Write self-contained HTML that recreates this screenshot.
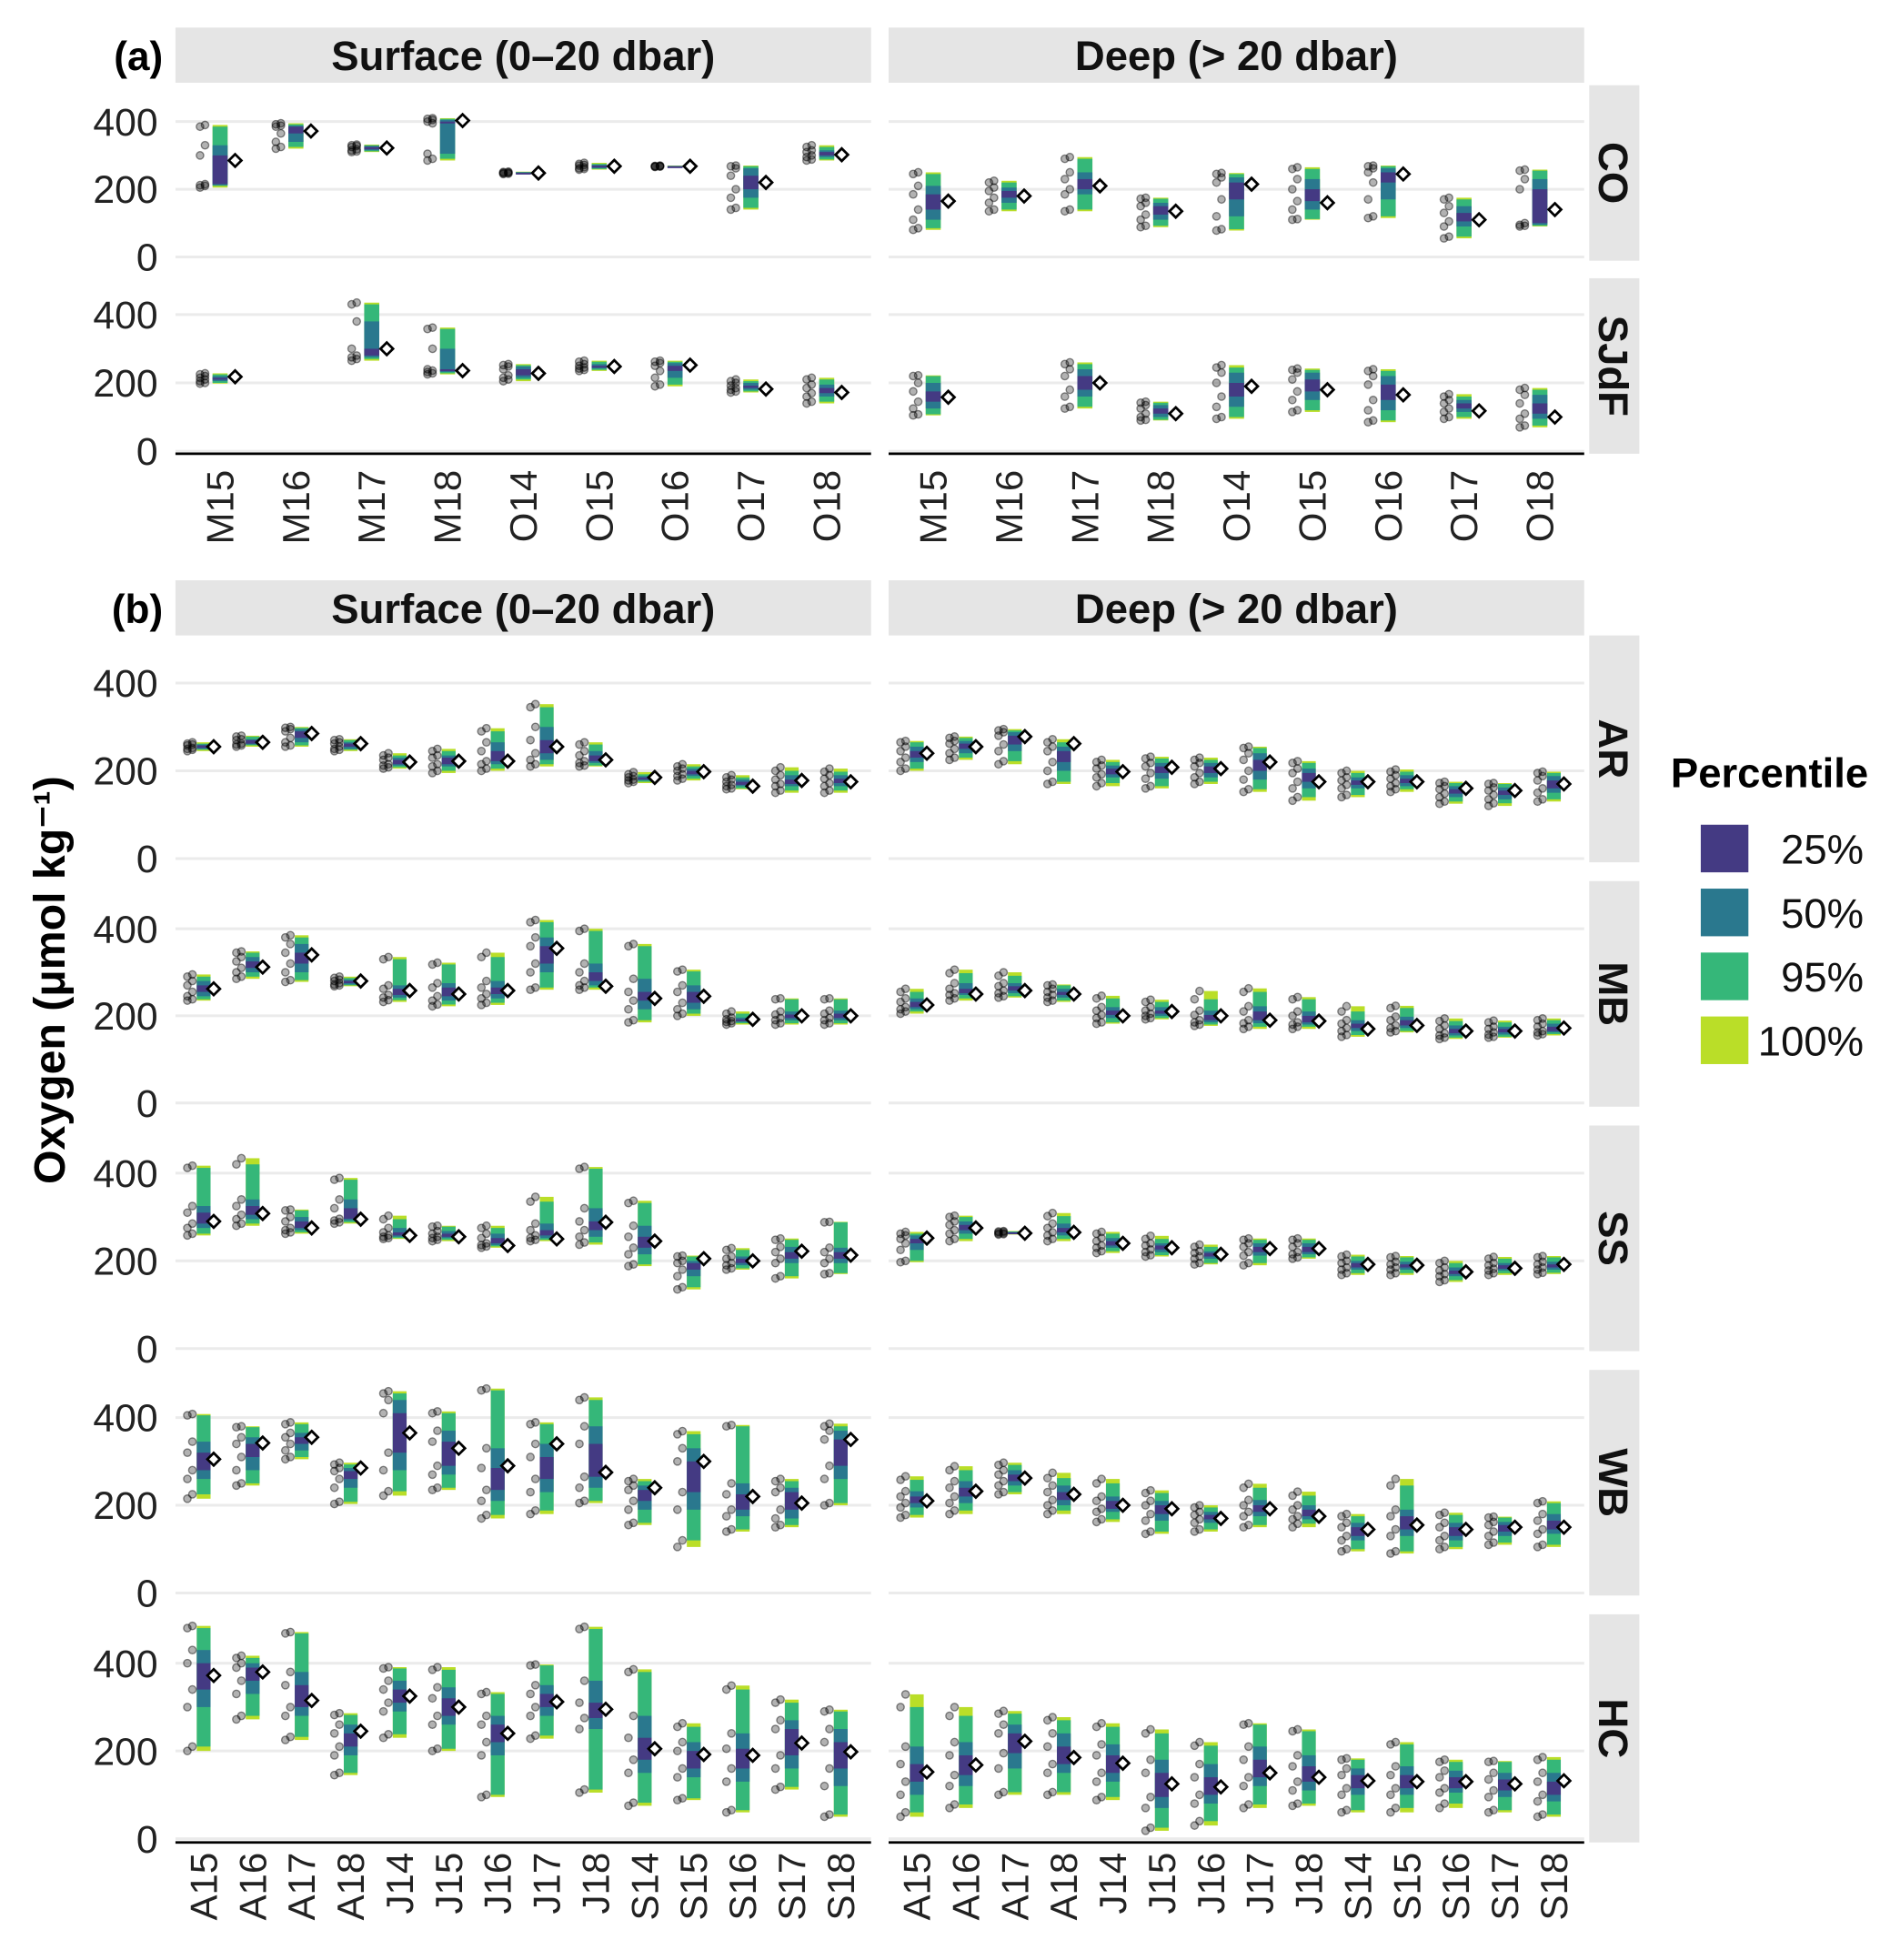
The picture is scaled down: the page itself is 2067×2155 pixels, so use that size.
<!DOCTYPE html>
<html><head><meta charset="utf-8"><style>
html,body{margin:0;padding:0;background:#fff;}
svg{display:block;}
text{font-family:"Liberation Sans",Arial,sans-serif;}
</style></head><body>
<svg id="chart" width="2067" height="2155" viewBox="0 0 1500 1563.8" preserveAspectRatio="none" xmlns="http://www.w3.org/2000/svg"></svg>
<script>
const categoriesA = ["M15","M16","M17","M18","O14","O15","O16","O17","O18"];
const categoriesB = ["A15","A16","A17","A18","J14","J15","J16","J17","J18","S14","S15","S16","S17","S18"];
const yTicks = [0,200,400];
const yTickLabels = ["0","200","400"];
const legendLabels = ["25%","50%","95%","100%"];
// each entry: [lo100, lo95, lo50, lo25, hi25, hi50, hi95, hi100, mean]
const coSurface = [[205,210,212,215,300,330,385,390,285],[320,325,340,365,385,388,392,395,372],[310,312,315,318,325,328,330,332,322],[285,290,305,395,400,405,408,410,403],[245,246,247,248,249,250,251,252,248],[258,260,262,265,270,272,275,278,268],[266,267,267,268,268,269,269,270,268],[140,145,175,200,240,262,268,270,220],[285,288,295,300,310,315,325,330,302]];
const coDeep = [[80,85,110,140,185,210,245,250,165],[135,140,160,175,195,205,220,225,180],[135,140,185,200,230,250,290,295,210],[88,92,110,125,150,160,172,175,135],[78,82,120,170,220,235,245,248,215],[110,112,140,165,200,230,260,265,160],[115,120,170,220,250,262,268,270,245],[55,60,90,105,130,150,170,175,110],[90,92,95,100,200,230,255,258,140]];
const sjdfSurface = [[198,200,205,210,215,220,225,228,218],null,[265,270,275,280,300,380,430,435,300],[225,228,232,236,240,300,358,362,236],[205,210,215,222,240,248,252,255,228],[235,238,242,245,250,255,262,265,248],[190,195,215,235,250,258,262,265,252],[172,175,180,185,192,200,205,210,182],[140,145,160,170,185,195,210,215,172]];
const sjdfDeep = [[105,108,125,145,175,200,220,222,158],null,[125,130,160,180,220,240,255,260,200],[90,92,100,110,125,135,142,145,110],[95,100,130,160,200,230,245,252,190],[115,120,150,175,210,230,238,242,180],[85,90,120,150,195,220,235,240,165],[95,100,115,125,140,150,160,167,118],[70,75,95,110,140,165,180,185,100]];
const arSurface = [[245,248,250,252,258,260,262,265,255],[255,258,260,262,270,272,278,280,265],[255,258,265,275,290,295,298,300,285],[245,248,250,255,262,265,270,272,262],[205,208,212,215,225,230,235,240,220],[195,200,210,215,230,235,245,250,222],[200,205,215,222,245,265,290,297,222],[210,215,225,240,270,300,345,352,255],[210,212,218,222,235,245,260,265,225],[172,175,178,180,185,188,192,197,185],[178,182,188,192,200,205,210,215,198],[158,160,165,168,175,180,185,190,165],[150,155,165,170,180,190,200,208,178],[150,155,165,172,182,190,198,205,175]];
const arDeep = [[200,205,220,230,245,255,265,268,240],[225,230,240,250,262,268,275,278,255],[215,222,245,260,280,288,292,295,278],[170,175,200,220,245,255,265,272,262],[165,172,185,192,205,212,220,225,198],[160,165,182,195,210,218,228,232,208],[170,175,185,195,210,218,225,230,205],[152,158,180,200,225,240,252,255,220],[132,140,160,175,195,205,218,222,175],[140,145,160,168,178,185,195,200,175],[152,158,165,172,182,190,198,203,175],[125,130,140,148,158,165,172,175,160],[120,126,135,145,155,162,170,172,155],[130,135,150,160,178,188,195,198,170]];
const mbSurface = [[235,238,245,255,270,280,290,295,262],[285,290,300,310,325,335,345,348,312],[278,282,300,320,345,365,380,385,340],[268,270,272,275,280,283,287,290,280],[232,236,242,248,262,270,330,335,258],[222,226,235,245,265,275,318,322,250],[225,230,240,250,265,280,335,345,258],[260,265,300,320,360,380,415,420,355],[260,265,270,280,300,320,395,400,268],[185,190,215,235,255,285,360,365,240],[200,205,215,230,255,270,302,306,245],[180,183,186,188,192,196,205,210,192],[180,183,190,195,203,210,238,240,200],[180,183,190,195,205,212,238,240,200]];
const mbDeep = [[205,210,215,220,232,240,255,262,225],[235,240,248,252,262,275,298,306,250],[242,245,252,258,268,275,292,300,258],[232,235,242,248,255,262,270,272,250],[182,185,195,202,212,220,240,246,200],[192,195,200,205,212,220,232,237,210],[177,180,185,190,202,212,238,257,200],[170,175,183,190,210,222,255,263,190],[170,175,180,185,200,210,238,243,188],[152,156,165,172,182,190,210,222,170],[162,165,172,178,190,198,218,223,178],[147,150,155,160,170,178,188,194,165],[150,152,157,162,170,175,185,189,165],[155,158,162,165,175,182,190,194,172]];
const ssSurface = [[258,262,275,285,310,325,412,417,290],[280,285,295,305,325,340,420,434,308],[262,265,270,275,290,300,315,317,275],[285,288,292,296,320,340,385,389,295],[250,252,255,258,265,275,295,303,258],[245,248,252,255,262,268,278,280,255],[230,233,236,240,252,262,275,280,235],[245,248,252,258,270,285,335,346,250],[237,242,255,270,290,320,410,414,288],[188,192,215,230,255,280,332,337,245],[135,140,165,180,195,200,210,212,205],[180,183,190,195,205,210,225,229,200],[160,165,195,205,220,232,248,251,222],[170,172,195,205,220,230,288,289,213]];
const ssDeep = [[197,200,225,240,250,258,262,266,252],[245,250,262,270,282,290,300,303,275],[260,261,262,263,265,266,267,268,263],[245,250,258,265,275,285,302,309,265],[218,222,230,235,245,252,262,266,240],[210,213,220,226,235,240,250,257,230],[192,195,205,210,218,222,232,237,215],[190,195,212,220,232,240,248,251,228],[205,208,215,220,232,240,248,251,228],[168,172,180,185,195,200,210,214,192],[168,172,180,185,192,198,208,211,190],[152,156,165,170,178,185,195,200,175],[168,172,178,182,190,195,205,209,183],[170,173,180,185,192,198,208,211,192]];
const wbSurface = [[215,225,260,280,320,345,405,408,305],[245,250,280,310,340,355,378,380,342],[305,310,325,340,355,365,385,389,355],[203,208,240,260,278,285,293,297,285],[222,232,280,320,410,440,455,460,365],[235,240,270,290,345,370,410,414,330],[170,178,210,235,285,330,462,466,290],[180,188,230,260,310,340,385,389,340],[205,210,240,265,340,380,440,446,275],[155,160,190,210,235,245,255,260,240],[105,120,190,230,300,330,362,369,300],[140,145,175,190,225,250,380,383,220],[150,155,170,190,230,240,255,260,205],[200,205,260,290,350,370,380,386,350]];
const wbDeep = [[172,178,195,205,220,232,258,266,210],[180,188,205,220,240,255,280,289,232],[225,230,245,255,270,280,292,297,262],[180,188,200,212,230,245,262,274,225],[162,168,185,192,210,220,250,260,200],[135,140,165,180,200,210,228,234,192],[140,145,160,168,178,185,195,200,170],[150,155,175,185,200,212,240,249,192],[150,158,168,175,190,200,222,231,175],[95,100,120,130,150,160,175,180,145],[90,95,130,145,175,190,245,260,155],[100,105,120,130,150,160,178,183,145],[110,115,130,140,155,162,172,174,150],[105,110,135,145,165,180,205,209,150]];
const hcSurface = [[200,210,300,340,400,430,480,485,372],[272,280,330,360,390,400,412,417,380],[225,232,280,300,350,380,468,471,315],[145,150,190,210,240,260,282,286,245],[230,238,290,310,340,360,388,391,325],[200,205,260,280,320,345,385,391,300],[95,100,190,220,260,280,330,334,240],[228,235,280,300,330,350,395,397,312],[105,112,250,275,310,360,478,483,295],[75,82,150,180,230,280,380,386,205],[88,92,140,160,200,220,255,263,192],[60,65,130,160,205,240,340,349,190],[112,118,160,190,250,270,310,317,218],[50,55,120,160,220,250,290,294,198]];
const hcDeep = [[50,60,100,130,170,210,300,329,152],[70,78,120,145,190,220,280,300,168],[100,106,160,195,240,260,285,291,222],[100,106,150,170,210,240,270,277,185],[88,95,130,150,190,215,255,263,172],[18,25,70,95,150,180,240,249,125],[30,40,80,100,140,170,212,220,118],[70,78,120,140,180,210,260,263,150],[75,80,110,130,165,190,245,249,140],[60,65,100,115,145,160,180,183,132],[60,70,100,115,145,165,215,220,130],[70,80,105,115,140,155,175,180,130],[60,65,95,110,135,150,175,177,125],[50,55,85,100,130,150,180,186,132]];

const NS = "http://www.w3.org/2000/svg";
const svg = document.getElementById('chart');
const COLORS = {p100:"#BADE28", p95:"#35B779", p50:"#2A788E", p25:"#443A83"};
function mk(tag, attrs, parent){
  const e = document.createElementNS(NS, tag);
  for (const k in attrs) e.setAttribute(k, attrs[k]);
  (parent||svg).appendChild(e);
  return e;
}
const COLS = [{x0:140,x1:695,label:"Surface (0–20 dbar)",key:"s"},{x0:709,x1:1264,label:"Deep (> 20 dbar)",key:"d"}];
const ROWS = [
 {name:"CO",top:68,bot:208,y0:205,y400:97,group:"a",data:[coSurface,coDeep]},
 {name:"SJdF",top:222,bot:362,y0:360,y400:251,group:"a",data:[sjdfSurface,sjdfDeep]},
 {name:"AR",top:507,bot:688,y0:685,y400:545,group:"b",data:[arSurface,arDeep]},
 {name:"MB",top:703,bot:883,y0:880,y400:741,group:"b",data:[mbSurface,mbDeep]},
 {name:"SS",top:898,bot:1078,y0:1076,y400:936,group:"b",data:[ssSurface,ssDeep]},
 {name:"WB",top:1093,bot:1273,y0:1271,y400:1131,group:"b",data:[wbSurface,wbDeep]},
 {name:"HC",top:1288,bot:1470,y0:1467,y400:1327,group:"b",data:[hcSurface,hcDeep]}
];
const GROUPS = {
 a:{cats:categoriesA,first:175.6,step:60.5,bw:12,dotOff:14,diaOff:12,stripTop:22,stripBot:66,tag:"(a)",labelTop:375,axisRow:1},
 b:{cats:categoriesB,first:162.5,step:39.1,bw:11,dotOff:11,diaOff:8,stripTop:463,stripBot:507,tag:"(b)",labelTop:1478,axisRow:6}
};

for (const gk of ["a","b"]) {
  const g = GROUPS[gk];
  COLS.forEach(c=>{
    const r = mk('rect',{x:c.x0,y:g.stripTop,width:c.x1-c.x0,height:g.stripBot-g.stripTop,fill:"#E5E5E5"});
    
    
    const t = mk('text',{x:(c.x0+c.x1)/2,y:g.stripTop+34,'text-anchor':'middle','font-size':33,'font-weight':'bold',fill:'#111'});
    t.textContent = c.label;
    
    
  });
  const tg = mk('text',{x:130,y:g.stripTop+34,'text-anchor':'end','font-size':32,'font-weight':'bold',fill:'#000'});
  tg.textContent = g.tag;
  
  
}

ROWS.forEach((row, ri)=>{
  const g = GROUPS[row.group];
  const yS = v => row.y0 - v*(row.y0-row.y400)/400;
  const rs = mk('rect',{x:1268,y:row.top,width:40,height:row.bot-row.top,fill:"#E5E5E5"});
  
  
  const cy=(row.top+row.bot)/2;
  const rt = mk('text',{x:1287,y:cy,'text-anchor':'middle','font-size':33,'font-weight':'bold',fill:'#111',transform:`rotate(90 1287 ${cy})`,'dominant-baseline':'central'});
  rt.textContent=row.name;
  
  
  yTicks.forEach((tv,ti)=>{
    const t = mk('text',{x:126,y:yS(tv)+11,'text-anchor':'end','font-size':31,fill:'#222'});
    t.textContent=yTickLabels[ti];
    
    
  });
  COLS.forEach((col,ci)=>{
    yTicks.forEach(tv=>{
      const l = mk('line',{x1:col.x0,x2:col.x1,y1:yS(tv),y2:yS(tv),stroke:'#EBEBEB','stroke-width':2.2});
      
      
    });
    const data = row.data[ci];
    const off = col.x0-140;
    const xS = i => g.first + off + i*g.step;
    data.forEach((d,i)=>{
      if(!d) return;
      const cx = xS(i);
      const grp = mk('g',{});
      
      
      const bands=[[d[0],d[7],COLORS.p100],[d[1],d[6],COLORS.p95],[d[2],d[5],COLORS.p50],[d[3],d[4],COLORS.p25]];
      bands.forEach(b=>{
        const y1=yS(b[1]), y2=yS(b[0]);
        mk('rect',{x:cx-g.bw/2,y:y1,width:g.bw,height:Math.max(1.5,y2-y1),fill:b[2]},grp);
      });
      for(let k=0;k<8;k++){
        const c = mk('circle',{cx:cx-g.dotOff+(k%2?2:-2),cy:yS(d[k]),r:3,fill:'rgba(0,0,0,0.3)',stroke:'rgba(0,0,0,0.45)','stroke-width':1},grp);
        
        
      }
      const my=yS(d[8]), mx=cx+g.diaOff, s=5;
      const dm = mk('polygon',{points:`${mx},${my-s} ${mx+s},${my} ${mx},${my+s} ${mx-s},${my}`,fill:'#fff',stroke:'#000','stroke-width':2},grp);
      
      
    });
    if (ri===g.axisRow){
      const ax = mk('line',{x1:col.x0,x2:col.x1,y1:row.bot,y2:row.bot,stroke:'#000','stroke-width':2});
      
      
      g.cats.forEach((cat,i)=>{
        const x = xS(i);
        const t = mk('text',{x:x,y:g.labelTop,'text-anchor':'end','font-size':30.5,fill:'#222','dominant-baseline':'central',transform:`rotate(-90 ${x} ${g.labelTop})`});
        t.textContent=cat;
        
        
      });
    }
  });
});

const yt = mk('text',{x:40,y:782,'text-anchor':'middle','font-size':35,'font-weight':'bold',fill:'#000',transform:'rotate(-90 40 782)','dominant-baseline':'central'});
yt.textContent='Oxygen (μmol kg⁻¹)';



const lt = mk('text',{x:1333,y:628,'font-size':33,'font-weight':'bold',fill:'#000'});
lt.textContent='Percentile';


const legColors=[COLORS.p25,COLORS.p50,COLORS.p95,COLORS.p100];
legendLabels.forEach((lab,i)=>{
  const y=658+i*51;
  const r=mk('rect',{x:1357,y:y,width:38,height:38,fill:legColors[i]});
  
  
  const t=mk('text',{x:1487,y:y+31,'text-anchor':'end','font-size':33,fill:'#111'});
  t.textContent=lab;
  
  
});
</script>
</body></html>
